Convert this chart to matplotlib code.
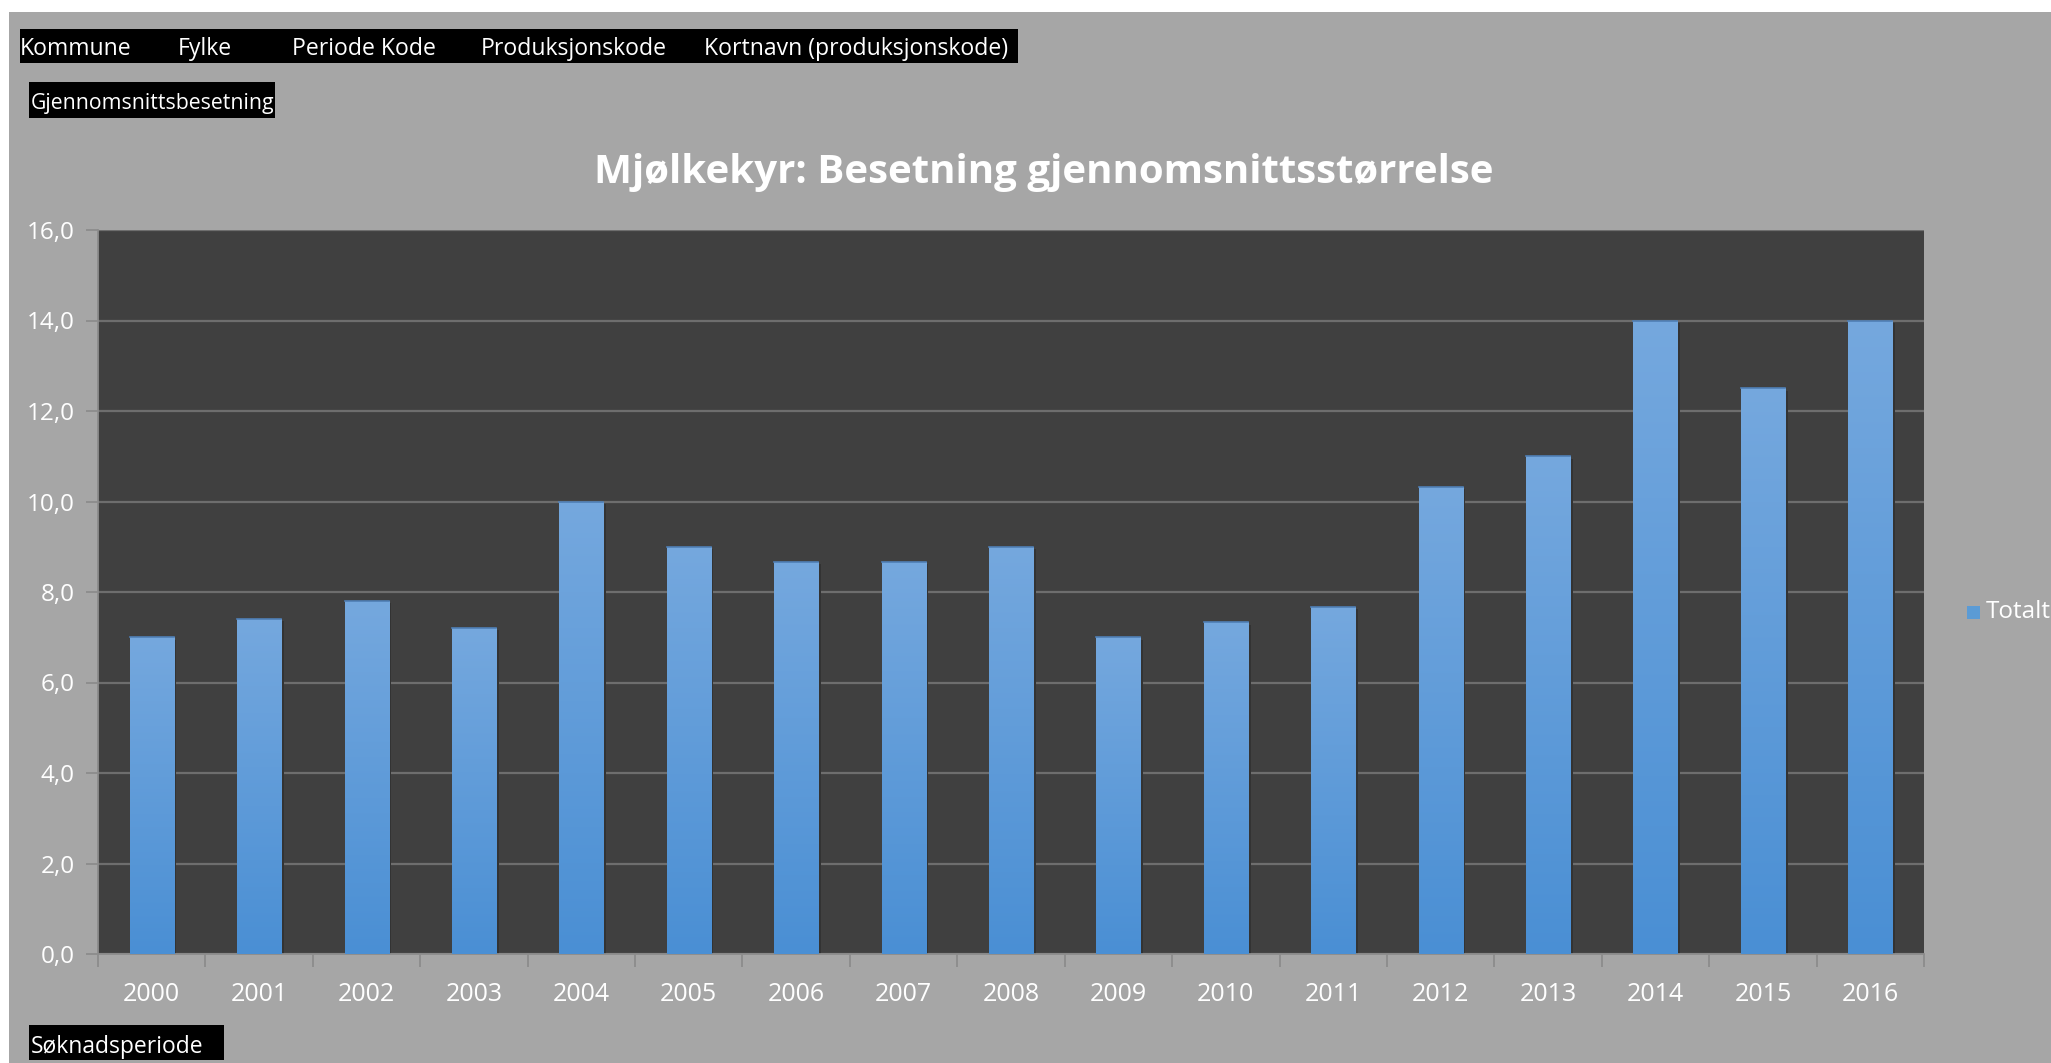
import matplotlib.pyplot as plt
import numpy as np
from matplotlib.patches import Rectangle
from matplotlib.colors import LinearSegmentedColormap

# data
years = ['2000', '2001', '2002', '2003', '2004', '2005', '2006', '2007', '2008',
         '2009', '2010', '2011', '2012', '2013', '2014', '2015', '2016']
totalt = [7.0, 7.4, 7.8, 7.2, 10.0, 9.0, 8.67, 8.67, 9.0,
          7.0, 7.33, 7.67, 10.33, 11.0, 14.0, 12.5, 14.0]
yticks = [0, 2, 4, 6, 8, 10, 12, 14, 16]
filter_labels = ['Kommune', 'Fylke', 'Periode Kode', 'Produksjonskode', 'Kortnavn (produksjonskode)']

W, H = 2051, 1063
plt.rcParams['font.family'] = ['Open Sans', 'DejaVu Sans']

fig = plt.figure(figsize=(W / 100, H / 100), dpi=100)
fig.patch.set_facecolor('white')

def px(x, y):
    # pixel (from top-left) to figure fraction
    return x / W, 1 - y / H

def box(x0, y0, x1, y1, color):
    fx, fy = px(x0, y1)
    fig.add_artist(Rectangle((fx, fy), (x1 - x0) / W, (y1 - y0) / H,
                             transform=fig.transFigure, facecolor=color, edgecolor='none', zorder=0))

# grey chart area
box(9, 12, W, H, '#a6a6a6')

# pivot field buttons
box(20, 29, 1018, 63, 'black')
for lab, x in zip(filter_labels, [20, 178, 292, 481, 704]):
    fig.text(*px(x, 49), lab, color='white', fontsize=16.6, va='center', ha='left')
box(29, 82, 275, 118, 'black')
fig.text(*px(31, 104), 'Gjennomsnittsbesetning', color='white', fontsize=15.3, va='center', ha='left')
box(29, 1025, 224, 1060, 'black')
fig.text(*px(31, 1047), 'Søknadsperiode', color='white', fontsize=16.5, va='center', ha='left')

# title
fig.text(*px(1044, 172), 'Mjølkekyr: Besetning gjennomsnittsstørrelse', color='white',
         fontsize=29, fontweight='bold', ha='center', va='center')

ax = fig.add_axes([98 / W, 1 - 954 / H, (1924 - 98) / W, (954 - 230) / H])
ax.set_facecolor('#404040')
x = np.arange(len(years))
bars = ax.bar(x, totalt, width=0.41, color='#5b9bd5', zorder=3, label='Totalt')

# vertical gradient inside bars
cmap = LinearSegmentedColormap.from_list('bar', ['#4a8fd4', '#75a8de'])
grad = np.linspace(0, 1, 256).reshape(-1, 1)
for b in bars:
    bx, bw, bh = b.get_x(), b.get_width(), b.get_height()
    # slight shadow on right side
    ax.add_patch(Rectangle((bx + bw, 0), 0.025, bh - 0.05, facecolor='#333333', edgecolor='none', zorder=2.5))
    im = ax.imshow(grad, extent=[bx, bx + bw, 0, bh], origin='lower', aspect='auto',
                   cmap=cmap, zorder=3.5)
    im.set_clip_path(b)
    ax.plot([bx, bx + bw], [bh, bh], color='#4f7fb5', lw=1.2, zorder=4)

ax.set_xlim(-0.5, len(years) - 0.5)
ax.set_ylim(0, 16)
ax.set_yticks(yticks)
ax.set_yticklabels([f'{v:.1f}'.replace('.', ',') for v in yticks])
ax.set_xticks(x)
ax.set_xticklabels(years)
ax.set_xticks(np.arange(-0.5, len(years)), minor=True)
ax.tick_params(axis='x', which='major', length=0, pad=20, colors='white', labelsize=18)
ax.tick_params(axis='x', which='minor', length=9, width=1.3, color='#8c8c8c')
ax.tick_params(axis='y', length=9, width=1.3, color='#8c8c8c', colors='white', labelsize=17.5, pad=8)
ax.tick_params(axis='y', color='#8c8c8c')
ax.grid(axis='y', color='#6e6e6e', lw=1.6, zorder=1)
ax.set_axisbelow(True)
for s in ['top', 'right']:
    ax.spines[s].set_visible(False)
for s in ['left', 'bottom']:
    ax.spines[s].set_color('#8c8c8c')
    ax.spines[s].set_linewidth(1.3)

# legend
box(1967, 606, 1980, 619, '#5b9bd5')
fig.text(*px(1986, 612), 'Totalt', color='white', fontsize=17.5, va='center', ha='left')

fig.savefig('out.png', dpi=100, facecolor=fig.get_facecolor())
